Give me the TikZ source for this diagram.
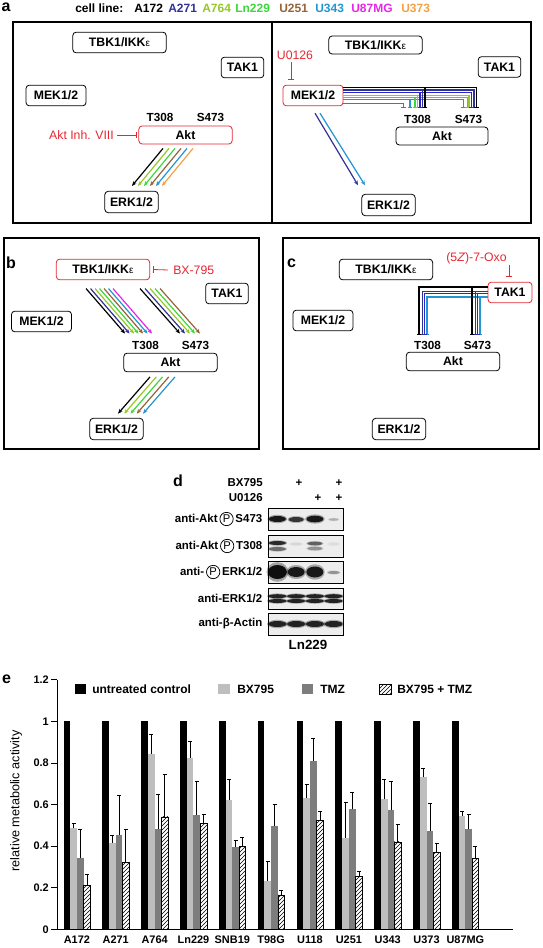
\documentclass[tikz,border=0pt]{standalone}
\usepackage{fontspec}
\setmainfont{Liberation Sans}
\usetikzlibrary{positioning,calc,arrows.meta,patterns}

\definecolor{cA172}{RGB}{0,0,0}
\definecolor{cA271}{RGB}{50,50,150}
\definecolor{cA271b}{RGB}{40,40,200}
\definecolor{cA764}{RGB}{150,200,40}
\definecolor{cLn229}{RGB}{60,215,60}
\definecolor{cU251}{RGB}{150,100,55}
\definecolor{cU343}{RGB}{35,150,210}
\definecolor{cU87MG}{RGB}{230,40,230}
\definecolor{cU373}{RGB}{245,160,70}
\definecolor{inhred}{RGB}{228,40,50}
\definecolor{barlight}{RGB}{190,190,190}
\definecolor{bardark}{RGB}{125,125,125}

\newcommand\epsi{{\mdseries\fontsize{7.5}{8}\selectfont ε}}
\newcommand\phos{\tikz[baseline=(p.base)]\node[draw,circle,inner sep=0pt,minimum size=10pt,line width=0.55pt,font=\fontsize{8.4}{9}\selectfont\mdseries](p){P};}
\newcommand\band[6]{\fill[black,opacity=#6*0.35] ($(#1)+({-28.1+18.75*(#2-1)},#3)$) ellipse [x radius=#4*1.15, y radius=#5*1.4];
  \fill[black,opacity=#6] ($(#1)+({-28.1+18.75*(#2-1)},#3)$) ellipse [x radius=#4, y radius=#5];}

\tikzset{
  panellab/.style={inner sep=0pt, font=\fontsize{12}{14}\selectfont\bfseries},
  celltxt/.style={inner sep=0pt, anchor=west, font=\fontsize{9}{11}\selectfont\bfseries},
  kinase/.style={draw, rounded corners=2.5pt, line width=0.6pt, inner sep=0pt, minimum height=15.5pt, font=\fontsize{9.2}{10}\selectfont\bfseries},
  inhibited/.style={kinase, draw=inhred},
  site/.style={inner sep=0pt, font=\fontsize{8.8}{10}\selectfont\bfseries},
  drug/.style={inner sep=0pt, text=inhred, font=\fontsize{9.2}{11}\selectfont},
  act/.style={line width=0.9pt, -{Stealth[length=3.5pt,width=3pt]}},
  inh/.style={line width=0.9pt, -{Bar[width=3.5pt]}},
  drugline/.style={inhred, line width=0.6pt, -{Bar[width=5pt]}},
  panelbox/.style={line width=0.9pt},
  blotrow/.style={draw, fill=black!7, line width=0.7pt, inner sep=0pt, minimum width=56.25pt},
  blotlab/.style={inner sep=0pt, font=\fontsize{8.6}{10}\selectfont\bfseries},
  ticklab/.style={inner sep=0pt, font=\fontsize{8.2}{10}\selectfont\bfseries},
  leglab/.style={inner sep=0pt, anchor=west, font=\fontsize{9}{11}\selectfont\bfseries},
  errbar/.style={line width=0.5pt},
  hatchbar/.style={draw, line width=0.5pt, pattern=north east lines}
}

\begin{document}
\begin{tikzpicture}[x=0.75pt,y=0.75pt,yscale=-1,xscale=1]
\useasboundingbox (0,0) rectangle (542,948);

% cell line legend
\node[panellab] (la) at (6,7) {a};
\node[celltxt] (cellline) at (75,8) {cell line:};
\foreach \nm/\xx in {A172/134,A271/168,A764/202,Ln229/235,U251/279,U343/315,U87MG/351,U373/401}
  \node[celltxt, text=c\nm] (leg\nm) at (\xx,8) {\nm};

% panel frames
\draw[panelbox] (13,22) rectangle (531,223);
\draw[panelbox] (272,22) -- (272,223);
\draw[panelbox] (4,238) rectangle (259,449);
\draw[panelbox] (283,238) rectangle (539,449);

% Panel a, left: Akt inhibitor
\node[kinase, minimum width=70pt] (tbkA) at (119.5,42.5) {TBK1/IKK\epsi};
\node[kinase, minimum width=32pt] (takA) at (242.5,67.5) {TAK1};
\node[kinase, minimum width=45pt] (mekA) at (56,95.5) {MEK1/2};
\node[site] (t308A) at (160,117.5) {T308};
\node[site] (s473A) at (210.5,117.5) {S473};
\node[inhibited, minimum width=70pt, minimum height=13.5pt] (aktA) at (185.5,135) {Akt};
\node[kinase, minimum width=40pt, minimum height=16pt] (erkA) at (131.5,202) {ERK1/2};
\node[drug, anchor=east] (drugA) at (114,135) {Akt Inh. VIII};
\draw[drugline] ($(drugA.east)+(3,0)$) -- ($(aktA.west)+(-2,0)$);
\foreach \c [count=\i from 0] in {cA172,cA764,cLn229,cU251,cU343,cU373}
  \draw[act,\c] ($(aktA.south)+(-22.5+6*\i,4)$) -- ++(-31,37.5);

% Panel a, right: U0126
\node[kinase, minimum width=70pt, minimum height=13.5pt] (tbkB) at (375.5,45) {TBK1/IKK\epsi};
\node[kinase, minimum width=32pt] (takB) at (499.5,67) {TAK1};
\node[inhibited, minimum width=45pt] (mekB) at (313,95.5) {MEK1/2};
\node[site] (t308B) at (417.5,119) {T308};
\node[site] (s473B) at (468.5,119) {S473};
\node[kinase, minimum width=69pt, minimum height=13.5pt] (aktB) at (442,136) {Akt};
\node[kinase, minimum width=40pt, minimum height=16pt] (erkB) at (388.5,205) {ERK1/2};
\node[drug] (drugB) at (295,55.5) {U0126};
\draw[drugline] ($(mekB.north)+(-22,-23)$) -- ($(mekB.north)+(-22,-5)$);
\draw[inh,cU251] ($(mekB.east)+(0,7.8)$) -| ($(t308B)+(-14.2,-11)$);
\foreach \c/\dy/\tx/\sx in {cU343/4.2/-7.5/-5.2, cLn229/1.8/-2.5/-1.2, cA764/0.2/-0.2/0.5, cA271b/-3.2/2.5/3.2, cA271/-5.5/5.2/5.5, cA172/-7.8/7.5/8.2}{
  \draw[inh,\c] ($(mekB.east)+(0,\dy)$) -| ($(t308B)+(\tx,-11)$);
  \draw[inh,\c] ($(mekB.east)+(0,\dy)$) -| ($(s473B)+(\sx,-11)$);
}
\draw[act,cA271] ($(mekB.south)+(2,7)$) -- ++(43,72);
\draw[act,cU343] ($(mekB.south)+(7,7)$) -- ++(45,72);

% Panel b: BX-795
\node[panellab] (lb) at (11,263) {b};
\node[inhibited, minimum width=70pt] (tbkC) at (103,269.5) {TBK1/IKK\epsi};
\node[drug, anchor=west] (drugC) at (173,270) {BX-795};
\draw[drugline] ($(drugC.west)+(-5,0)$) -- ($(tbkC.east)+(3,0)$);
\node[kinase, minimum width=32pt] (takC) at (227,293.5) {TAK1};
\node[kinase, minimum width=45pt] (mekC) at (41.5,321.5) {MEK1/2};
\node[site] (t308C) at (145.5,345) {T308};
\node[site] (s473C) at (195.5,345) {S473};
\node[kinase, minimum width=70pt, minimum height=14pt] (aktC) at (170.5,362.5) {Akt};
\node[kinase, minimum width=40pt, minimum height=16pt] (erkC) at (116.5,429) {ERK1/2};
\foreach \c [count=\i from 0] in {cA172,cA271,cA764,cLn229,cU251,cU343,cU87MG}
  \draw[act,\c] ($(tbkC.south)+(-17+4.5*\i,8.3)$) -- ++(39,45);
\foreach \c [count=\i from 0] in {cA172,cA271,cA764,cLn229,cU251}
  \draw[act,\c] ($(tbkC.south)+(37+5*\i,8.3)$) -- ++(40,45);
\foreach \c [count=\i from 0] in {cA172,cA764,cLn229,cU251,cU343}
  \draw[act,\c] ($(aktC.south)+(-20.5+6.25*\i,4.7)$) -- ++(-32,36.7);

% Panel c: (5Z)-7-Oxozeaenol
\node[panellab] (lc) at (291.5,263.5) {c};
\node[kinase, minimum width=70pt] (tbkD) at (386,269.5) {TBK1/IKK\epsi};
\node[drug] (drugD) at (476.5,258) {(5\textit{Z})-7-Oxo};
\node[inhibited, minimum width=33pt] (takD) at (510,292.5) {TAK1};
\draw[drugline] ($(takD.north)+(-1,-17)$) -- ($(takD.north)+(-1,-5)$);
\node[kinase, minimum width=45pt] (mekD) at (323,320.5) {MEK1/2};
\node[site] (t308D) at (427.5,345) {T308};
\node[site] (s473D) at (477.5,345) {S473};
\node[kinase, minimum width=70pt, minimum height=14pt] (aktD) at (453,361.5) {Akt};
\node[kinase, minimum width=40pt, minimum height=16pt] (erkD) at (399,429) {ERK1/2};
\foreach \c/\dy/\tx/\sx in {cU343/4.5/-0.5/2.5, cA271b/1.3/-3/0, cA271/-1/-5/-2, cA172/-5.5/-8.5/-5.5}{
  \draw[inh,\c] ($(takD.west)+(0,\dy)$) -| ($(t308D)+(\tx,-10)$);
  \draw[inh,\c] ($(takD.west)+(0,\dy)$) -| ($(s473D)+(\sx,-10)$);
}

% Panel d: western blot
\node[panellab] (ld) at (178,481) {d};
\node[blotlab, anchor=east] (bxlab) at (263,483) {BX795};
\node[blotlab, anchor=east] (uolab) at (263,498) {U0126};
\node[blotlab] (p1) at (299,483) {+};
\node[blotlab] (p2) at (339,483) {+};
\node[blotlab] (p3) at (318,498) {+};
\node[blotlab] (p4) at (339,498) {+};
\node[blotrow, minimum height=16.5pt] (rowS) at (305.5,519) {};
\node[blotrow, minimum height=16.5pt] (rowT) at (305.5,546) {};
\node[blotrow, minimum height=16.5pt] (rowPE) at (305.5,572) {};
\node[blotrow, minimum height=15.75pt] (rowE) at (305.5,598.5) {};
\node[blotrow, minimum height=16.5pt] (rowB) at (305.5,624) {};
\node[blotlab, left=3.75pt of rowS] (labS) {anti-Akt\,\phos\,S473};
\node[blotlab, left=3.75pt of rowT] (labT) {anti-Akt\,\phos\,T308};
\node[blotlab, left=3.75pt of rowPE] (labPE) {anti-\,\phos\,ERK1/2};
\node[blotlab, left=3.75pt of rowE] (labE) {anti-ERK1/2};
\node[blotlab, left=3.75pt of rowB] (labB) {anti-β-Actin};
\node[inner sep=0pt, font=\fontsize{10}{12}\selectfont\bfseries] (ln229) at (308,645) {Ln229};
% bands
\band{rowS}{1}{0}{8.5}{3}{0.85}
\band{rowS}{2}{0.5}{7.5}{2.5}{0.7}
\band{rowS}{3}{0}{8.5}{3.3}{0.85}
\band{rowS}{4}{0.5}{5}{1.3}{0.2}
\band{rowT}{1}{-3}{8.5}{2}{0.75}
\band{rowT}{1}{3}{8.5}{2}{0.45}
\band{rowT}{2}{-2}{6}{1.5}{0.07}
\band{rowT}{3}{-2.5}{7.5}{1.8}{0.5}
\band{rowT}{3}{2.5}{7.5}{1.8}{0.3}
\band{rowT}{4}{-2}{6}{1.5}{0.05}
\band{rowPE}{1}{0}{9.5}{7}{0.9}
\band{rowPE}{2}{0}{8.5}{5}{0.85}
\band{rowPE}{3}{0}{8.5}{5.5}{0.85}
\band{rowPE}{4}{0.5}{6}{1.5}{0.3}
\foreach \ln in {1,2,3,4}{
  \band{rowE}{\ln}{-2.3}{9}{2}{0.8}
  \band{rowE}{\ln}{2.5}{9}{2}{0.8}
  \band{rowB}{\ln}{0}{9}{3}{0.8}
}

% Panel e: metabolic activity
\node[panellab] (le) at (6.5,679) {e};
\draw[line width=0.6pt] (57,679.7) -- (57,929.3) -- (513,929.3);
\foreach \v in {0,0.2,0.4,0.6,0.8,1,1.2}{
  \draw[line width=0.6pt] (51,{929.3-208*\v}) -- (57,{929.3-208*\v});
  \node[ticklab, anchor=east] at (49,{929.3-208*\v}) {\v};
}
\node[rotate=90, inner sep=0pt, font=\fontsize{9.5}{11}\selectfont] (ylab) at (16,801) {relative metabolic activity};
\fill[black] (75,684) rectangle (86,694);
\node[leglab] (legctrl) at (92,689) {untreated control};
\fill[barlight] (218,684) rectangle (230,694);
\node[leglab] (legbx) at (237,689) {BX795};
\fill[bardark] (302,684) rectangle (313,694);
\node[leglab] (legtmz) at (320,689) {TMZ};
\draw[hatchbar] (379,684) rectangle (391,694);
\node[leglab] (legcombo) at (397,689) {BX795 + TMZ};
\foreach \nm/\bx/\bxe/\tm/\tme/\co/\coe [count=\i from 0] in {
  A172/.485/.51/.345/.48/.21/.265,
  A271/.415/.45/.455/.645/.32/.48,
  A764/.845/.935/.48/.65/.54/.745,
  Ln229/.825/.905/.55/.71/.51/.555,
  SNB19/.62/.72/.395/.43/.40/.44,
  T98G/.23/.325/.495/.60/.165/.185,
  U118/.63/.695/.81/.92/.525/.565,
  U251/.44/.61/.58/.66/.255/.28,
  U343/.625/.72/.575/.71/.42/.505,
  U373/.73/.775/.475/.605/.37/.415,
  U87MG/.545/.565/.48/.555/.34/.40}{
  \pgfmathsetmacro\xa{63.5+38.85*\i}
  \fill[black] (\xa,929.3) rectangle ++(6.7,-208);
  \fill[barlight] ({\xa+6.7},929.3) rectangle ++(6.7,{-208*\bx});
  \fill[bardark] ({\xa+13.4},929.3) rectangle ++(6.7,{-208*\tm});
  \draw[hatchbar] ({\xa+20.1},929.3) rectangle ++(6.7,{-208*\co});
  \draw[errbar] ({\xa+10.05},{929.3-208*\bx}) -- ({\xa+10.05},{929.3-208*\bxe}) ++(-2,0) -- ++(4,0);
  \draw[errbar] ({\xa+16.75},{929.3-208*\tm}) -- ({\xa+16.75},{929.3-208*\tme}) ++(-2,0) -- ++(4,0);
  \draw[errbar] ({\xa+23.45},{929.3-208*\co}) -- ({\xa+23.45},{929.3-208*\coe}) ++(-2,0) -- ++(4,0);
  \node[ticklab] (x\nm) at ({\xa+13.4},940) {\nm};
}
\end{tikzpicture}
\end{document}
